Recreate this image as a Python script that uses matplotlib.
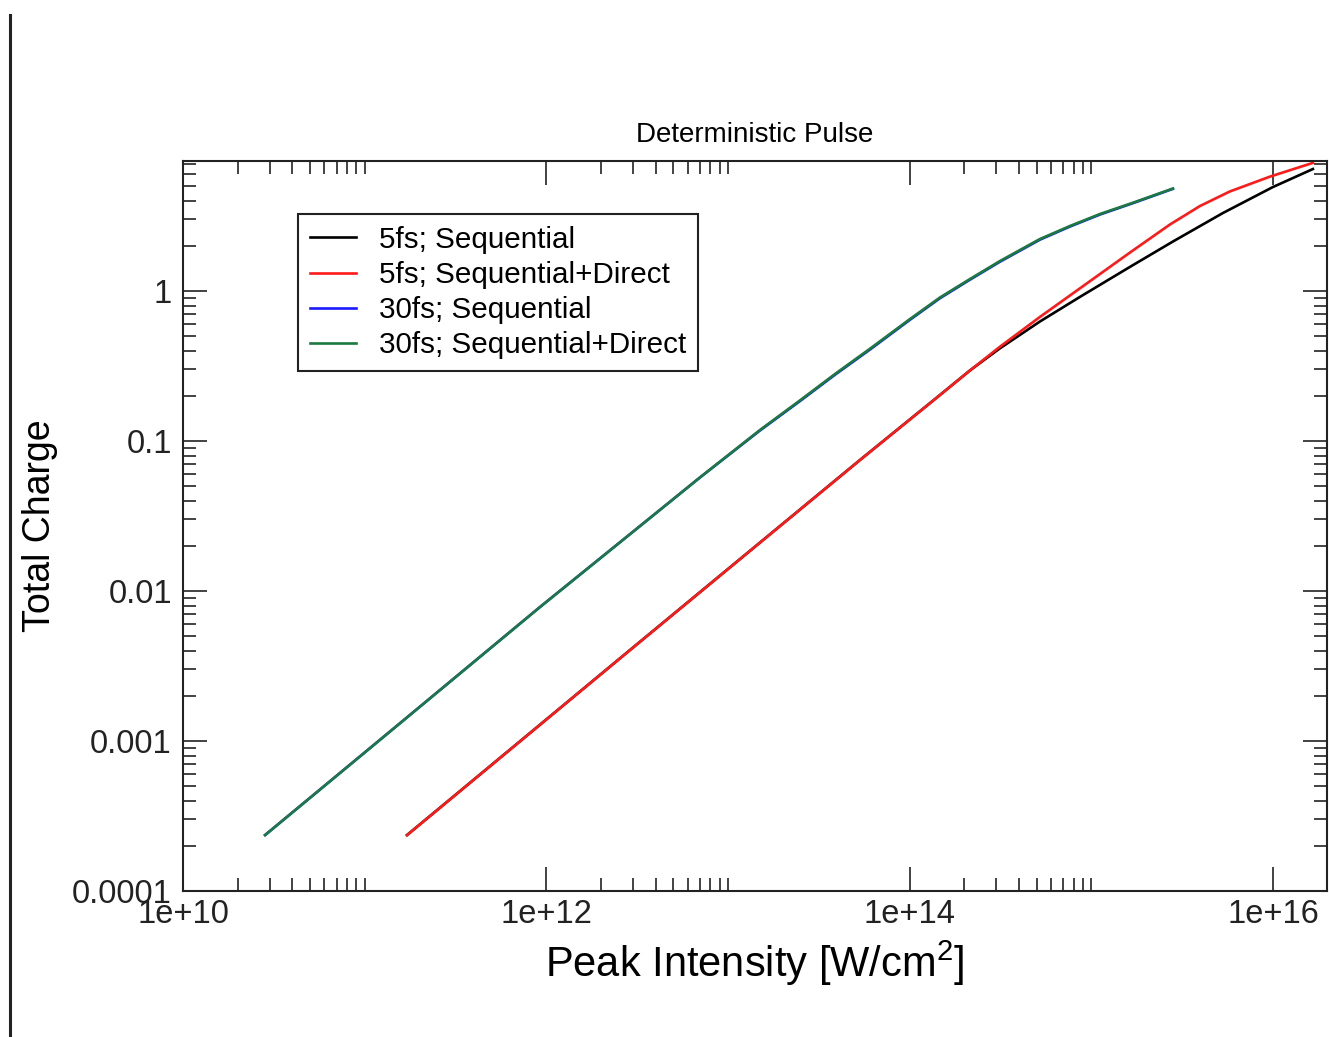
import matplotlib
matplotlib.use('Agg')
import matplotlib.pyplot as plt
from matplotlib.ticker import FixedLocator, LogLocator, FuncFormatter, NullFormatter
from matplotlib.lines import Line2D

plt.rcParams['font.family'] = ['Liberation Sans', 'DejaVu Sans']
plt.rcParams['mathtext.fontset'] = 'custom'
plt.rcParams['mathtext.rm'] = 'Liberation Sans'

# --- datos ---
# 5fs
x_5fs_seq = [1.71e11, 2.885e12, 1.24e13, 5.32e13, 1.466e14, 2.145e14, 3.137e14, 5.207e14,
             8.644e14, 1.629e15, 2.809e15, 5.292e15, 9.975e15, 1.656e16]
y_5fs_seq = [2.36e-4, 4.04e-3, 1.74e-2, 7.47e-2, 0.2026, 0.2955, 0.415, 0.6262,
             0.9135, 1.448, 2.138, 3.311, 4.935, 6.507]

x_5fs_dir = [1.71e11, 2.885e12, 1.24e13, 5.32e13, 1.466e14, 2.145e14, 3.137e14, 5.207e14,
             8.644e14, 1.629e15, 2.704e15, 3.955e15, 5.784e15, 9.603e15, 1.656e16]
y_5fs_dir = [2.36e-4, 4.04e-3, 1.74e-2, 7.47e-2, 0.2026, 0.2955, 0.4253, 0.672,
             1.042, 1.805, 2.776, 3.687, 4.613, 5.79, 7.155]

# 30fs
x_30fs = [2.83e10, 1.56e11, 9.2e11, 3.72e12, 7.003e12, 1.498e13, 2.487e13, 3.876e13,
          6.039e13, 1.003e14, 1.466e14, 2.145e14, 3.137e14, 5.207e14, 7.615e14,
          1.114e15, 1.736e15, 2.809e15]
y_30fs_seq = [2.36e-4, 1.31e-3, 7.8e-3, 3.07e-2, 5.71e-2, 0.1175, 0.1845, 0.2765,
              0.407, 0.643, 0.895, 1.19, 1.568, 2.2, 2.69, 3.235, 3.895, 4.8]
y_30fs_dir = [2.36e-4, 1.31e-3, 7.8e-3, 3.07e-2, 5.72e-2, 0.1184, 0.1865, 0.2797,
              0.4124, 0.6506, 0.9051, 1.202, 1.585, 2.222, 2.713, 3.261, 3.92, 4.824]

etiquetas = ['5fs; Sequential', '5fs; Sequential+Direct',
             '30fs; Sequential', '30fs; Sequential+Direct']
colores = ['#000000', '#ff1a1a', '#1a1aff', '#1b7a40']

# --- figura ---
fig = plt.figure(figsize=(13.29, 10.37), dpi=100)
ax = fig.add_axes([183 / 1329, 1 - 891 / 1037, 1144 / 1329, 730 / 1037])

lw = 1.9
ax.plot(x_5fs_seq, y_5fs_seq, color=colores[0], lw=lw, label=etiquetas[0])
ax.plot(x_5fs_dir, y_5fs_dir, color=colores[1], lw=lw, label=etiquetas[1])
ax.plot(x_30fs, y_30fs_seq, color=colores[2], lw=lw, label=etiquetas[2])
ax.plot(x_30fs, y_30fs_dir, color=colores[3], lw=lw, label=etiquetas[3])

ax.set_xscale('log')
ax.set_yscale('log')
ax.set_xlim(1e10, 1.98e16)
ax.set_ylim(1e-4, 7.36)

# ticks estilo IGOR
ax.xaxis.set_major_locator(FixedLocator([1e10, 1e12, 1e14, 1e16]))
ax.xaxis.set_minor_locator(FixedLocator([k * 10.0 ** e for e in (10, 12, 14) for k in range(2, 11)]))
ax.xaxis.set_major_formatter(FuncFormatter(lambda v, p: f'{v:.0e}'))
ax.xaxis.set_minor_formatter(NullFormatter())
ax.yaxis.set_major_locator(LogLocator(base=10, numticks=20))
ax.yaxis.set_minor_locator(LogLocator(base=10, subs=range(2, 10), numticks=20))
ax.yaxis.set_major_formatter(FuncFormatter(lambda v, p: f'{v:g}'))
ax.yaxis.set_minor_formatter(NullFormatter())

ax.tick_params(which='both', direction='in', top=True, right=True, width=1.2, colors='#222222')
ax.tick_params(which='major', length=17)
ax.tick_params(which='minor', length=9.5)
ax.tick_params(axis='x', which='major', labelsize=23.5, pad=6)
ax.tick_params(axis='y', which='major', labelsize=23.5, pad=8)
for s in ax.spines.values():
    s.set_linewidth(1.5)
    s.set_color('#222222')

ax.set_title('Deterministic Pulse', fontsize=20, pad=14)
ax.set_xlabel(r'Peak Intensity [W/cm$^2$]', fontsize=30, labelpad=6)
ax.set_ylabel('Total Charge', fontsize=27, labelpad=10)

leg = ax.legend(loc='upper left', bbox_to_anchor=(0.1005, 0.9274), borderaxespad=0,
                fontsize=21.3, handlelength=1.55, handletextpad=0.8, labelspacing=0.24,
                borderpad=0.4, fancybox=False, framealpha=1, edgecolor='#222222')
leg.get_frame().set_linewidth(1.5)

# linea vertical del borde izquierdo
fig.add_artist(Line2D([10 / 1329, 10 / 1329], [0, 1 - 15 / 1037], transform=fig.transFigure,
                      color='#222222', lw=2.2))

fig.savefig('out.png', dpi=100)
